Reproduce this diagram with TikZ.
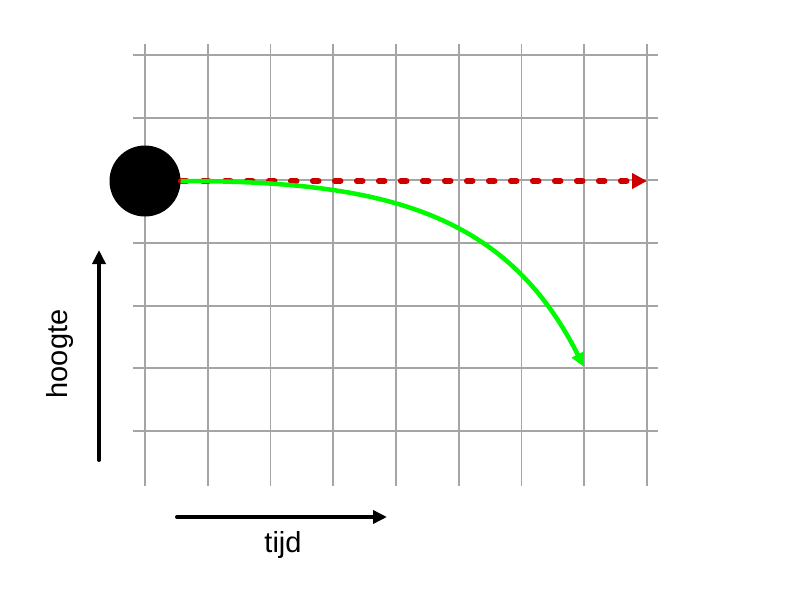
\documentclass[tikz,border=0pt]{standalone}
\usepackage{fontspec}
\setmainfont{Liberation Sans}
\usetikzlibrary{arrows.meta}
\definecolor{gridgray}{RGB}{165,165,165}
\definecolor{dashred}{RGB}{204,0,0}
\definecolor{brightgreen}{RGB}{0,250,0}
\begin{document}
\begin{tikzpicture}[x=1pt,y=-1pt,
  gridline/.style={draw=gridgray,line width=1.8pt},
  axisarrow/.style={draw=black,line width=4pt,line cap=round,-{Triangle[length=14pt,width=13pt]}},
  reddash/.style={draw=dashred,line width=5.5pt,line cap=round,dash pattern=on 6pt off 16pt,-{Triangle[length=15pt,width=15pt,fill=dashred]}},
  greencurve/.style={draw=brightgreen,line width=4.5pt,-{Triangle[length=14pt,width=13pt]}},
  lbl/.style={font=\fontsize{29}{34}\selectfont,inner sep=0pt},
  ballstyle/.style={circle,fill=black,minimum size=71pt,inner sep=0pt}
]
\useasboundingbox (0,0) rectangle (800,600);
\foreach \i in {0,...,8} \draw[gridline] ({145+62.75*\i},44) -- ({145+62.75*\i},486);
\foreach \j in {0,...,6} \draw[gridline] (133,{55+62.667*\j}) -- (658,{55+62.667*\j});
\node[ballstyle] (ball) at (145,181) {};
\coordinate (redend) at (647,181);
\draw[reddash] (ball.east) -- (redend);
\coordinate (greenend) at (584,367);
\draw[greencurve] (ball.east) .. controls (380,181) and (505,210) .. (greenend);
\coordinate (hstart) at (99,460);
\coordinate (hend) at (99,250);
\draw[axisarrow] (hstart) -- (hend);
\coordinate (tstart) at (177,517);
\coordinate (tend) at (387,517);
\draw[axisarrow] (tstart) -- (tend);
\node[lbl] (tijdlbl) at (283,545) {tijd};
\node[lbl,rotate=90] (hoogtelbl) at (60,354) {hoogte};
\end{tikzpicture}
\end{document}
